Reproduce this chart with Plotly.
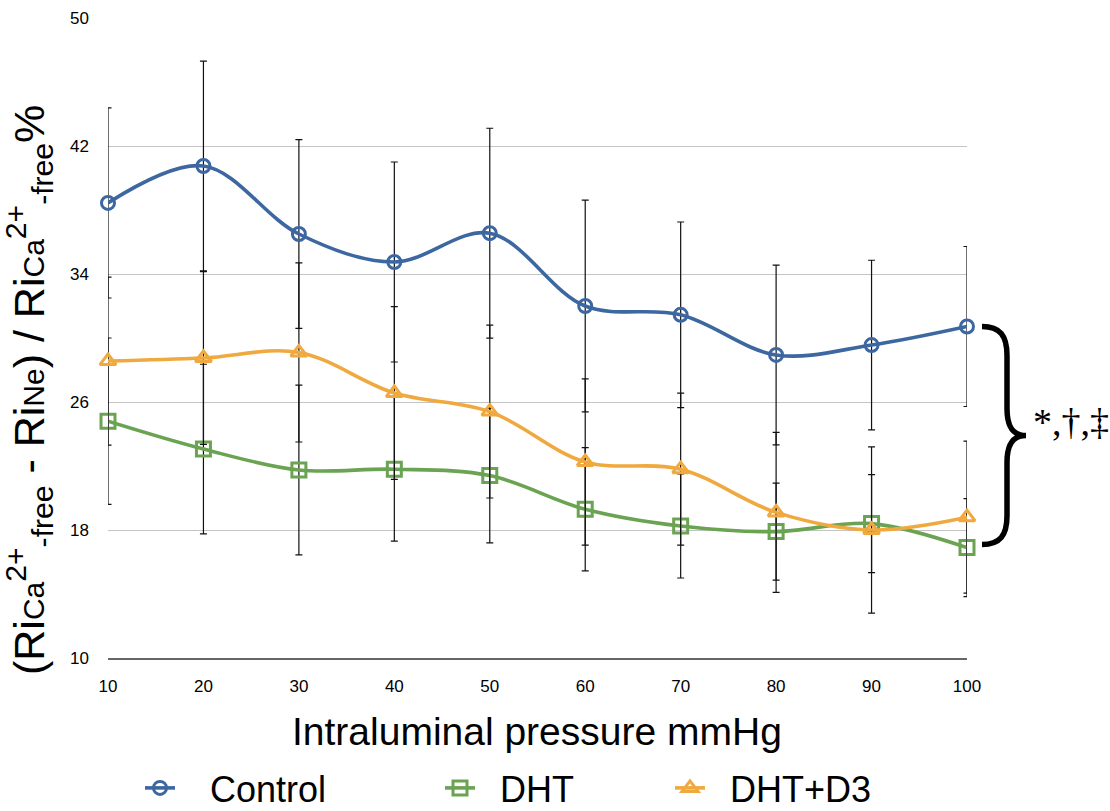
import plotly.graph_objects as go

pressure = [10, 20, 30, 40, 50, 60, 70, 80, 90, 100]
x_ticks = [10, 20, 30, 40, 50, 60, 70, 80, 90, 100]
y_ticks = [10, 18, 26, 34, 42, 50]

control = [38.44, 40.75, 36.5, 34.75, 36.55, 32.0, 31.45, 28.94, 29.56, 30.72]
control_err = [5.94, 6.56, 5.9, 6.25, 6.56, 6.62, 5.8, 5.62, 5.3, 5.0]

dht = [24.8, 23.06, 21.75, 21.8, 21.4, 19.3, 18.25, 17.9, 18.4, 16.9]
dht_err = [5.2, 5.3, 5.3, 4.5, 4.2, 3.85, 3.25, 3.03, 3.06, 3.06]

dht_d3 = [28.56, 28.75, 29.1, 26.56, 25.4, 22.25, 21.8, 19.1, 18.0, 18.8]
dht_d3_err = [5.25, 5.4, 5.6, 5.4, 5.4, 5.2, 4.75, 5.0, 5.2, 4.75]

names = ["Control", "DHT", "DHT+D3"]
colors = ["#3c67a0", "#6aa352", "#f0a93e"]
symbols = ["circle-open", "square-open", "triangle-up-open"]

W, H = 1110, 811
ML, MR, MT, MB = 108, 143, 18, 153
PW, PH = W - ML - MR, H - MT - MB
YMIN, YMAX = 10, 50

NB = "\u00a0"
pads = [3, 2, 2]

fig = go.Figure()
series = [(control, control_err), (dht, dht_err), (dht_d3, dht_d3_err)]
legends = ["legend", "legend2", "legend3"]
for i, (vals, errs) in enumerate(series):
    fig.add_trace(go.Scatter(
        x=pressure, y=vals, name=NB * pads[i] + names[i], mode="lines+markers",
        line=dict(color=colors[i], width=3.6, shape="spline", smoothing=1.0),
        marker=dict(symbol=symbols[i], size=13 if i == 0 else 14,
                    color=colors[i], line=dict(width=3, color=colors[i])),
        error_y=dict(type="data", array=errs, visible=True, color="#111111",
                     thickness=1.2, width=3.5),
        cliponaxis=False, legend=legends[i],
    ))

font = "Liberation Sans, Arial, Helvetica, sans-serif"

def px_x(px):
    return (px - ML) / PW

def px_y(py):
    return (H - MB - py) / PH

def val_py(v):
    return H - MB - (v - YMIN) / (YMAX - YMIN) * PH

# curly brace grouping the three curves at 100 mmHg
yt = val_py(control[-1])
yb = val_py(dht[-1]) - 3
ym = (yt + yb) / 2
x0, xv, xt = 982, 1007, 1026
pts = [
    ("M", [(x0, yt)]),
    ("C", [(1000, yt), (xv, yt + 9), (xv, yt + 29)]),
    ("L", [(xv, ym - 27)]),
    ("C", [(xv, ym - 10), (1012, ym), (xt, ym)]),
    ("C", [(1012, ym), (xv, ym + 10), (xv, ym + 27)]),
    ("L", [(xv, yb - 29)]),
    ("C", [(xv, yb - 9), (1000, yb), (x0, yb)]),
]
path = ""
for cmd, ps in pts:
    path += cmd + " " + " ".join(f"{px_x(a):.5f},{px_y(b):.5f}" for a, b in ps) + " "
fig.add_shape(type="path", path=path.strip(), xref="paper", yref="paper",
              line=dict(color="black", width=5.5))

fig.add_annotation(text="*,†,‡", xref="paper", yref="paper",
                   x=px_x(1031), y=px_y(ym - 14), xanchor="left", yanchor="middle",
                   showarrow=False,
                   font=dict(family="Liberation Serif, Times New Roman, serif", size=38, color="black"))

ytitle = ("(Ri<span style='font-size:30px'>Ca</span><sup>2+</sup><sub>-free</sub> - "
          "Ri<span style='font-size:30px'>Ne</span>) / "
          "Ri<span style='font-size:30px'>Ca</span><sup>2+</sup><sub>-free</sub>%")
fig.add_annotation(text=ytitle, xref="paper", yref="paper", x=px_x(29), y=px_y(390),
                   xanchor="center", yanchor="middle", textangle=-90, showarrow=False,
                   font=dict(family=font, size=43, color="black"))

fig.add_annotation(text="Intraluminal pressure mmHg", xref="paper", yref="paper",
                   x=px_x(537), y=px_y(731), xanchor="center", yanchor="middle",
                   showarrow=False, font=dict(family=font, size=39, color="black"))

leg_common = dict(orientation="h", yanchor="middle", y=px_y(788), xanchor="left",
                  bgcolor="rgba(0,0,0,0)", borderwidth=0,
                  font=dict(family=font, size=36, color="black"))

fig.update_layout(
    width=W, height=H,
    margin=dict(l=ML, r=MR, t=MT, b=MB, autoexpand=False),
    paper_bgcolor="white", plot_bgcolor="white",
    showlegend=True,
    legend=dict(x=px_x(140), **leg_common),
    legend2=dict(x=px_x(440), **leg_common),
    legend3=dict(x=px_x(670), **leg_common),
    xaxis=dict(range=[10, 100], tickvals=x_ticks, ticktext=[str(t) for t in x_ticks],
               showgrid=False, zeroline=False, showline=True, linecolor="#666666",
               linewidth=1.5, ticks="", ticklabelstandoff=12,
               tickfont=dict(family=font, size=17, color="black")),
    yaxis=dict(range=[YMIN, YMAX], tickvals=y_ticks, ticktext=[str(t) for t in y_ticks],
               showgrid=True, gridcolor="#c4c4c4", gridwidth=1, zeroline=False,
               showline=False, ticks="", ticklabelstandoff=18,
               tickfont=dict(family=font, size=17, color="black")),
)

fig.write_html("out.html")
